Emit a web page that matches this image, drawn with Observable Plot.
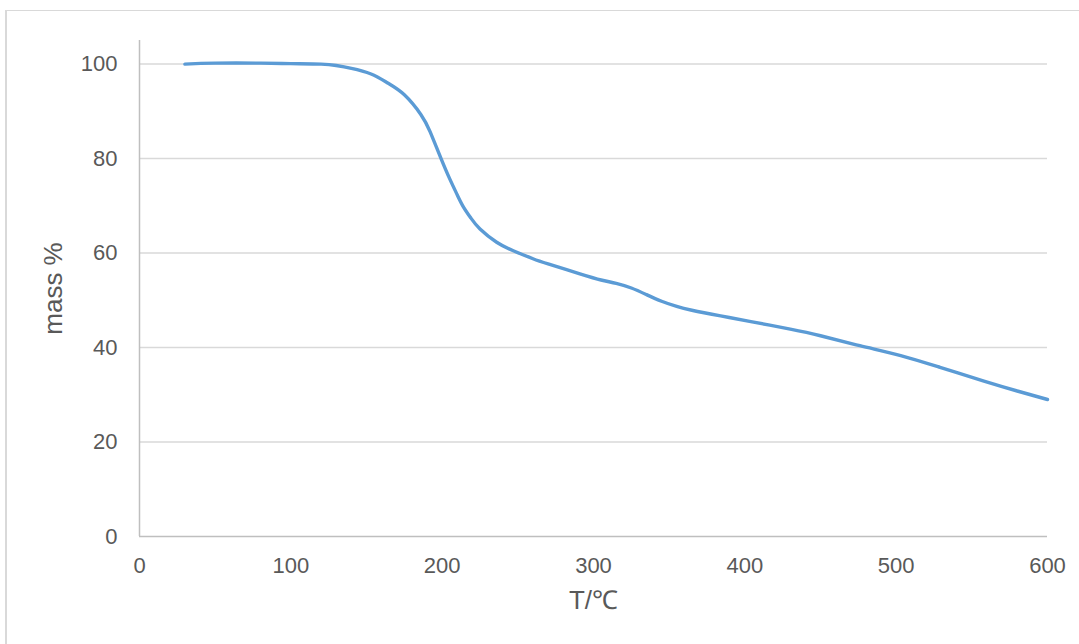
<!DOCTYPE html>
<html>
<head>
<meta charset="utf-8">
<script src="https://cdn.jsdelivr.net/npm/d3@7"></script>
<script src="https://cdn.jsdelivr.net/npm/@observablehq/plot@0.6"></script>
<style>
  html, body { margin: 0; padding: 0; background: #fff; }
  #wrap { position: relative; width: 1079px; height: 644px; overflow: hidden; }
  #frame { position: absolute; left: 5px; top: 10px; width: 1100px; height: 700px;
           border-top: 1px solid #d9d9d9; border-left: 2px solid #d9d9d9; box-sizing: border-box; pointer-events: none; }
  #wrap svg { position: absolute; left: 0; top: 0; }
</style>
</head>
<body>
<div id="wrap"><div id="frame"></div></div>
<script>
const temperature = [30, 50, 80, 100, 120, 130, 140, 153, 164, 175, 186, 192, 199, 205, 210, 214, 219, 225, 236, 247, 260, 270, 291, 305, 315, 325, 335, 345, 355, 365, 384, 404, 430, 450, 476, 503, 529, 558, 580, 600];
const mass = [100, 100.2, 100.2, 100.1, 100.0, 99.7, 99.1, 97.9, 96.0, 93.5, 89.3, 85.7, 80.2, 75.7, 72.3, 69.8, 67.4, 65.1, 62.3, 60.5, 58.8, 57.7, 55.6, 54.3, 53.6, 52.6, 51.2, 49.8, 48.7, 47.9, 46.7, 45.5, 43.9, 42.5, 40.4, 38.3, 35.8, 32.9, 30.8, 29];
const xTicks = [0, 100, 200, 300, 400, 500, 600];
const yTicks = [0, 20, 40, 60, 80, 100];

const data = temperature.map((t, i) => ({t, m: mass[i]}));

const chart = Plot.plot({
  width: 1079,
  height: 644,
  marginLeft: 139,
  marginRight: 32,
  marginTop: 40,
  marginBottom: 108,
  style: { fontFamily: "'Liberation Sans', Arial, sans-serif", fontSize: "22px", color: "#595959", background: "transparent" },
  x: { domain: [0, 600], ticks: xTicks },
  y: { domain: [0, 105], ticks: yTicks },
  marks: [
    Plot.gridY(yTicks.filter(d => d > 0), { stroke: "#d9d9d9", strokeOpacity: 1, strokeWidth: 1.5 }),
    Plot.ruleX([0], { y1: 0, y2: 105, stroke: "#bfbfbf", strokeWidth: 1.5 }),
    Plot.ruleY([0], { stroke: "#bfbfbf", strokeWidth: 1.5 }),
    Plot.axisX({ ticks: xTicks, tickSize: 0, tickPadding: 21, fill: "#595959", label: null, fontSize: 22 }),
    Plot.axisY({ ticks: yTicks, tickSize: 0, tickPadding: 22, fill: "#595959", label: null, fontSize: 22 }),
    Plot.axisX({ ticks: [], tickSize: 0, label: "T/℃", labelAnchor: "center", labelArrow: "none", labelOffset: 72, fontSize: 26, fill: "#595959" }),
    Plot.axisY({ ticks: [], tickSize: 0, label: "mass %", labelAnchor: "center", labelArrow: "none", labelOffset: 96, fontSize: 26, fill: "#595959" }),
    Plot.line(data, { x: "t", y: "m", stroke: "#5b9bd5", strokeWidth: 3.4, curve: "natural" })
  ]
});
document.getElementById("wrap").appendChild(chart);
</script>
</body>
</html>
